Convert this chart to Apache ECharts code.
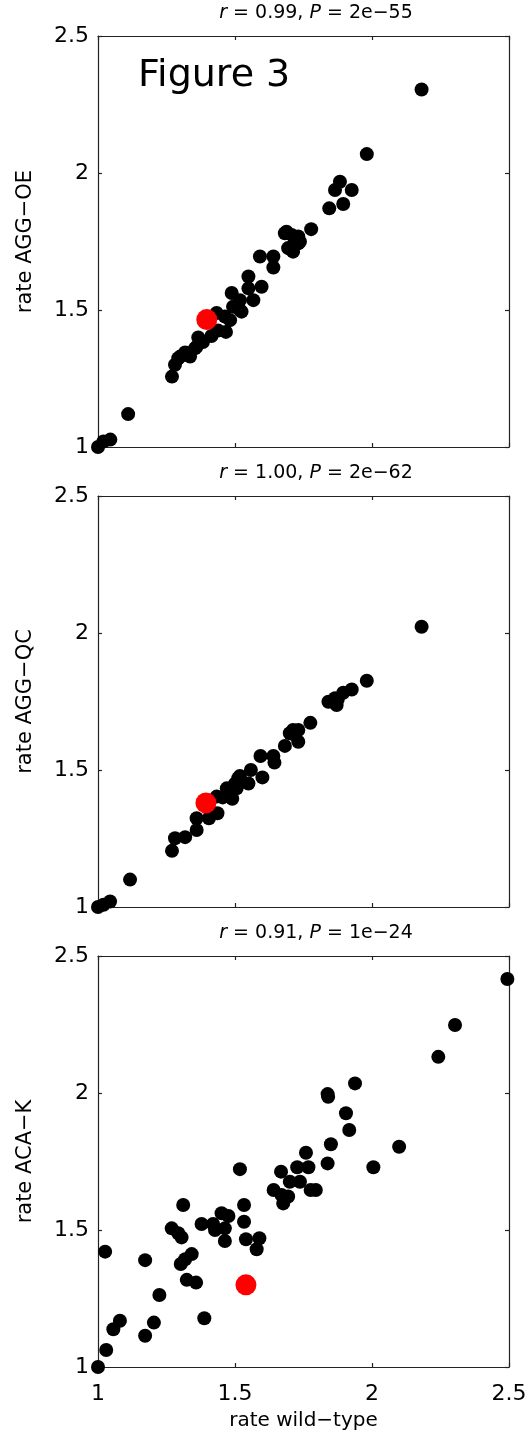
<!DOCTYPE html>
<html><head><meta charset="utf-8">
<script src="https://cdn.jsdelivr.net/npm/echarts/dist/echarts.min.js"></script>
<style>html,body{margin:0;padding:0;background:#fff}#c{width:525px;height:1440px}</style>
</head><body><div id="c"></div>
<script>
// ---- data (rate wild-type, rate mutant) ----
const panelTitles = [
  ['0.99', '2e\u221255'],
  ['1.00', '2e\u221262'],
  ['0.91', '1e\u221224']
];
const yNames = ['rate AGG\u2212OE', 'rate AGG\u2212QC', 'rate ACA\u2212K'];
const xName = 'rate wild\u2212type';
const tickValues = [1, 1.5, 2, 2.5];
const figureLabel = 'Figure 3';

const aggOeBlack = [
  [1.00,1.00],[1.02,1.02],[1.045,1.027],[1.11,1.12],
  [1.27,1.257],[1.281,1.30],[1.293,1.324],[1.30,1.33],[1.318,1.345],[1.336,1.33],
  [1.354,1.36],[1.36,1.366],[1.366,1.40],[1.383,1.383],[1.414,1.405],[1.438,1.425],
  [1.467,1.42],[1.433,1.489],[1.463,1.476],[1.482,1.463],[1.488,1.562],[1.493,1.512],
  [1.518,1.50],[1.524,1.494],[1.518,1.536],[1.549,1.579],[1.549,1.622],[1.567,1.536],
  [1.597,1.585],[1.591,1.695],[1.64,1.695],[1.64,1.655],[1.688,1.786],[1.694,1.726],
  [1.707,1.719],[1.712,1.713],[1.719,1.755],[1.731,1.743],[1.737,1.749],[1.707,1.774],
  [1.731,1.768],[1.682,1.78],[1.778,1.795],[1.844,1.871],[1.865,1.938],[1.883,1.968],
  [1.895,1.887],[1.926,1.938],[1.981,2.069],[2.181,2.305]
];
const aggOeRed = [[1.397,1.465]];

const aggQcBlack = [
  [1.00,1.00],[1.02,1.008],[1.044,1.02],[1.117,1.10],[1.27,1.205],[1.281,1.251],
  [1.318,1.255],[1.36,1.281],[1.36,1.324],[1.405,1.324],[1.436,1.342],[1.433,1.403],
  [1.455,1.40],[1.47,1.433],[1.48,1.415],[1.49,1.395],[1.50,1.45],[1.506,1.433],
  [1.512,1.47],[1.518,1.478],[1.549,1.451],[1.558,1.50],[1.60,1.473],[1.593,1.551],
  [1.64,1.551],[1.644,1.527],[1.682,1.588],[1.70,1.634],[1.712,1.646],[1.719,1.628],
  [1.731,1.603],[1.731,1.646],[1.775,1.672],[1.841,1.749],[1.865,1.762],[1.871,1.737],
  [1.875,1.757],[1.895,1.782],[1.926,1.794],[1.981,1.826],[2.181,2.023]
];
const aggQcRed = [[1.394,1.38]];

const acaKBlack = [
  [1.00,1.00],[1.03,1.062],[1.056,1.138],[1.08,1.169],[1.026,1.421],[1.172,1.114],
  [1.204,1.162],[1.224,1.263],[1.172,1.39],[1.388,1.178],[1.302,1.376],[1.318,1.393],
  [1.342,1.412],[1.324,1.318],[1.358,1.308],[1.269,1.506],[1.293,1.488],[1.305,1.473],
  [1.311,1.591],[1.378,1.522],[1.42,1.522],[1.427,1.50],[1.451,1.561],[1.476,1.551],
  [1.463,1.506],[1.463,1.46],[1.533,1.591],[1.533,1.53],[1.54,1.466],[1.589,1.47],
  [1.579,1.43],[1.518,1.722],[1.641,1.646],[1.668,1.713],[1.67,1.628],[1.694,1.622],
  [1.676,1.597],[1.70,1.676],[1.737,1.676],[1.727,1.729],[1.768,1.729],[1.759,1.782],
  [1.776,1.646],[1.795,1.646],[1.838,1.743],[1.85,1.813],[1.838,1.996],[1.84,1.986],
  [1.905,1.926],[1.917,1.865],[1.938,2.035],[2.005,1.729],[2.099,1.804],[2.242,2.132],
  [2.303,2.248],[2.494,2.416]
];
const acaKRed = [[1.54,1.30]];

const blackSets = [aggOeBlack, aggQcBlack, acaKBlack];
const redSets = [aggOeRed, aggQcRed, acaKRed];

// ---- layout ----
const FONT = 'DejaVu Sans';
const gridTops = [36, 496, 956];
const gridH = 411, gridLeft = 98, gridW = 411;

const chart = echarts.init(document.getElementById('c'), null, {renderer: 'canvas'});

const grids = [], xAxes = [], yAxes = [], series = [], titles = [];
const lineStyle = {color: '#222', width: 1.2};
for (let i = 0; i < 3; i++) {
  grids.push({left: gridLeft, top: gridTops[i], width: gridW, height: gridH,
    containLabel: false, outerBoundsMode: 'none', show: false});
  const showX = i === 2;
  const common = {gridIndex: i, type: 'value', min: tickValues[0], max: tickValues[tickValues.length-1],
    interval: 0.5, splitLine: {show: false},
    axisLine: {show: true, onZero: false, lineStyle: lineStyle},
    axisTick: {show: true, inside: true, length: 4, lineStyle: lineStyle}};
  xAxes.push(Object.assign({}, common, {position: 'bottom',
    axisLabel: {show: showX, color: '#000', fontFamily: FONT, fontSize: 22, margin: 16,
      formatter: v => String(v)},
    name: showX ? xName : '', nameLocation: 'middle', nameGap: 44,
    nameTextStyle: {color: '#000', fontFamily: FONT, fontSize: 20}}));
  xAxes.push(Object.assign({}, common, {position: 'top', axisLabel: {show: false}}));
  yAxes.push(Object.assign({}, common, {position: 'left',
    axisLabel: {show: true, color: '#000', fontFamily: FONT, fontSize: 22, margin: 9,
      formatter: v => String(v)},
    name: yNames[i], nameLocation: 'middle', nameGap: 62,
    nameTextStyle: {color: '#000', fontFamily: FONT, fontSize: 21}}));
  yAxes.push(Object.assign({}, common, {position: 'right', axisLabel: {show: false}}));

  series.push({type: 'scatter', xAxisIndex: 2*i, yAxisIndex: 2*i, data: blackSets[i],
    symbol: 'circle', symbolSize: 14, clip: false, itemStyle: {color: '#000', opacity: 1},
    emphasis: {disabled: true}, silent: true});
  series.push({type: 'scatter', xAxisIndex: 2*i, yAxisIndex: 2*i, data: redSets[i],
    symbol: 'circle', symbolSize: 21, clip: false, itemStyle: {color: '#ff0000', opacity: 1},
    emphasis: {disabled: true}, silent: true, z: 3});

  titles.push({text: '{i|r} = ' + panelTitles[i][0] + ', {i|P} = ' + panelTitles[i][1],
    left: 316, textAlign: 'center', top: gridTops[i] - 32, padding: 0,
    textStyle: {color: '#000', fontFamily: FONT, fontSize: 19, fontWeight: 'normal',
      rich: {i: {fontStyle: 'italic', color: '#000', fontFamily: FONT, fontSize: 19}}}});
}

chart.setOption({
  animation: false,
  backgroundColor: '#fff',
  title: titles,
  grid: grids,
  xAxis: xAxes,
  yAxis: yAxes,
  series: series,
  graphic: [{type: 'text', left: 138, top: 57, silent: true,
    style: {text: figureLabel, fill: '#000', font: '38px "DejaVu Sans"'}}]
});
</script></body></html>
